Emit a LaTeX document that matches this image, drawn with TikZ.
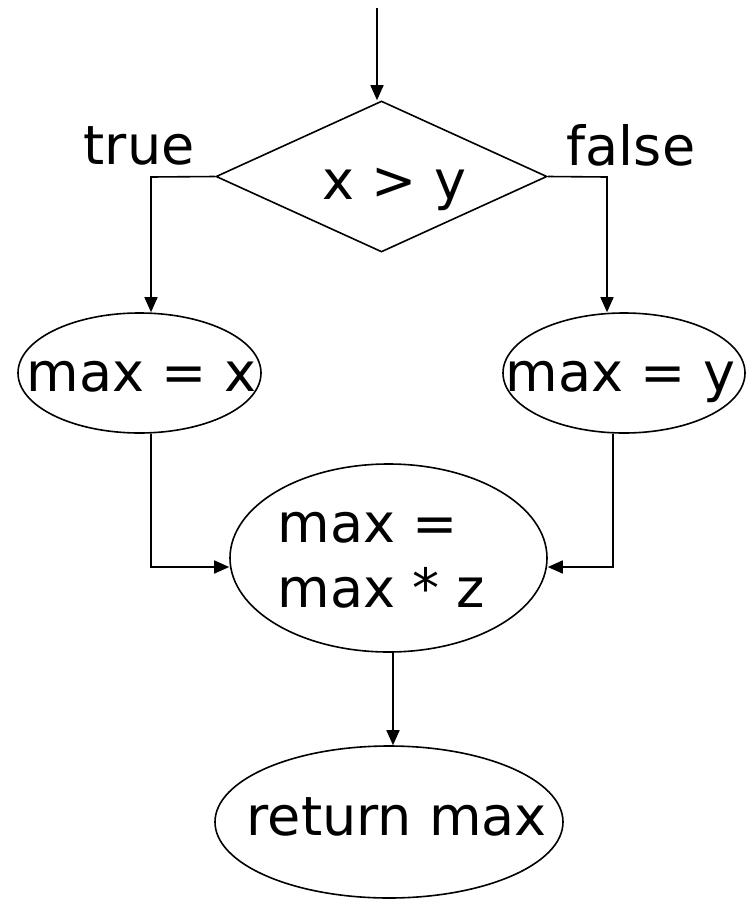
\documentclass[tikz,border=0pt]{standalone}
\usepackage{fontspec}
\setmainfont{DejaVu Sans}
\usetikzlibrary{shapes.geometric,arrows.meta}
\begin{document}
\begin{tikzpicture}[x=1pt,y=-1pt,
  line width=1.6pt,
  arr/.style={-{Triangle[length=15pt,width=13pt]}},
  ellbox/.style={draw,ellipse,inner sep=0pt,line width=1.6pt},
  lbl/.style={anchor=base west,inner sep=0pt,font=\fontsize{54pt}{66pt}\selectfont}]
\useasboundingbox (0,0) rectangle (750,900);
% shapes
\node[draw,diamond,inner sep=0pt,minimum width=331pt,minimum height=151pt,aspect=2.19] (d) at (381.5,176.5) {};
\node[ellbox,minimum width=243pt,minimum height=120pt] (L) at (139.5,373) {};
\node[ellbox,minimum width=242pt,minimum height=120pt] (R) at (624,373) {};
\node[ellbox,minimum width=317pt,minimum height=188pt] (M) at (388.5,558) {};
\node[ellbox,minimum width=348pt,minimum height=152pt] (B) at (389,822) {};
% texts
\node[lbl] (ttrue) at (83,164) {true};
\node[lbl] (tfalse) at (566,165) {false};
\node[lbl] (tcond) at (322,199) {x > y};
\node[lbl] (tl) at (26,391) {max = x};
\node[lbl] (tr) at (505,391) {max = y};
\node[lbl] (tm1) at (277,542) {max =};
\node[lbl] (tm2) at (277,607) {max * z};
\node[lbl] (tb) at (246,835) {return max};
% connector helper coordinates
\coordinate (start) at (377,8);
\coordinate (lc) at (151,177);
\coordinate (rc) at (607,177);
\coordinate (ll) at (151,567);
\coordinate (rl) at (613,567);
\coordinate (mc) at (393,0);
% connectors
\draw[arr] (start) -- (start |- d.north);
\draw[arr] (d.west) -- (lc) -- (lc |- L.north);
\draw[arr] (d.east) -- (rc) -- (rc |- R.north);
\draw[arr] (ll |- L.south) -- (ll) -- (ll -| M.west);
\draw[arr] (rl |- R.south) -- (rl) -- (rl -| M.east);
\draw[arr] (M.south -| mc) -- (B.north -| mc);
\end{tikzpicture}
\end{document}
